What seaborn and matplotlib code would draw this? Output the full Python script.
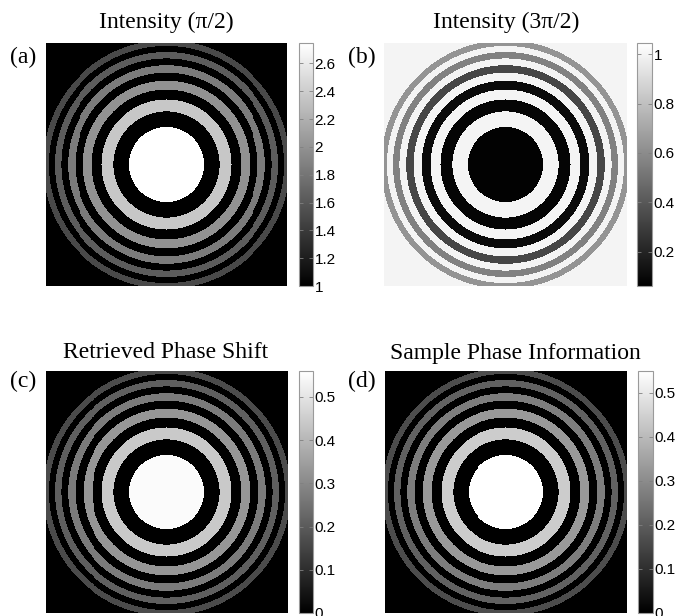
import numpy as np
import matplotlib
matplotlib.use('Agg')
import matplotlib.pyplot as plt
import seaborn as sns

# Zone boundaries (fraction of half image width)
zone_edges = [0.309, 0.437, 0.535, 0.617, 0.690, 0.756, 0.817, 0.873, 0.926, 0.976, 1.024]

titles = ['Intensity (\u03c0/2)', 'Intensity (3\u03c0/2)', 'Retrieved Phase Shift', 'Sample Phase Information']
labels = ['(a)', '(b)', '(c)', '(d)']

# value of central disk, the five rings, the gaps between them and outside
center_values = [2.74, 0.07, 0.55, 0.55]
rings_a = [2.36, 2.00, 1.84, 1.63, 1.50]
rings_b = [0.08, 0.10, 0.33, 0.56, 0.63]
rings_c = [0.44, 0.33, 0.27, 0.21, 0.165]
rings_d = [0.44, 0.33, 0.27, 0.21, 0.165]
gap_values = [1.0, 1.0, 0.0, 0.0]
background_values = [1.0, 1.0, 0.0, 0.0]

cbar_limits = [(1.0, 2.745), (0.06, 1.045), (0.0, 0.56), (0.0, 0.55)]
cbar_ticks = [[1, 1.2, 1.4, 1.6, 1.8, 2, 2.2, 2.4, 2.6],
              [0.2, 0.4, 0.6, 0.8, 1],
              [0, 0.1, 0.2, 0.3, 0.4, 0.5],
              [0, 0.1, 0.2, 0.3, 0.4, 0.5]]

N = 243
coords = (np.arange(N) + 0.5) / N * 2 - 1
xx, yy = np.meshgrid(coords, coords)
radius = np.hypot(xx, yy)


def zone_image(center, rings, gap, background):
    vals = [center]
    for v in rings:
        vals += [gap, v]
    vals.append(background)
    idx = np.searchsorted(zone_edges, radius)
    return np.array(vals)[idx]


W, H = 677, 616


def box(x0, y0, x1, y1):
    return [x0 / W, 1 - y1 / H, (x1 - x0) / W, (y1 - y0) / H]


img_boxes = [(45.7, 43.3, 287.3, 286.0), (384.3, 43.3, 627.3, 286.0),
             (45.7, 371.0, 287.7, 613.0), (385.0, 371.0, 626.7, 613.0)]
cbar_boxes = [(299.3, 43.3, 313.3, 286.0), (636.7, 43.3, 652.3, 286.0),
              (299.3, 371.0, 313.3, 613.0), (637.7, 371.0, 652.7, 613.0)]
title_pos = [(166, 22), (506, 22), (166, 353), (515, 354)]
label_pos = [(23, 57), (362, 57), (23, 381), (362, 381)]

all_rings = [rings_a, rings_b, rings_c, rings_d]

fig = plt.figure(figsize=(6.77, 6.16), dpi=100)

for i in range(4):
    data = zone_image(center_values[i], all_rings[i], gap_values[i], background_values[i])
    ax = fig.add_axes(box(*img_boxes[i]))
    cax = fig.add_axes(box(*cbar_boxes[i]))
    vmin, vmax = cbar_limits[i]
    sns.heatmap(data, ax=ax, cbar_ax=cax, cmap='gray', vmin=vmin, vmax=vmax,
                xticklabels=False, yticklabels=False, linewidths=0, rasterized=True)
    ax.set_aspect('auto')
    ax.tick_params(length=0)

    cb = ax.collections[0].colorbar
    cb.set_ticks(cbar_ticks[i])
    cb.set_ticklabels(['%g' % t for t in cbar_ticks[i]])
    cb.outline.set_edgecolor('#9a9a9a')
    cb.outline.set_linewidth(0.8)
    cax.tick_params(axis='y', direction='in', length=3, width=0.6, color='#808080',
                    right=True, left=True, pad=1, labelsize=11)
    for t in cax.get_yticklabels():
        t.set_fontfamily('Liberation Sans')

    fig.text(title_pos[i][0] / W, 1 - title_pos[i][1] / H, titles[i],
             ha='center', va='center', fontsize=17, family='Liberation Serif')
    fig.text(label_pos[i][0] / W, 1 - label_pos[i][1] / H, labels[i],
             ha='center', va='center', fontsize=17, family='Liberation Serif')

fig.savefig('out.png', dpi=100)
